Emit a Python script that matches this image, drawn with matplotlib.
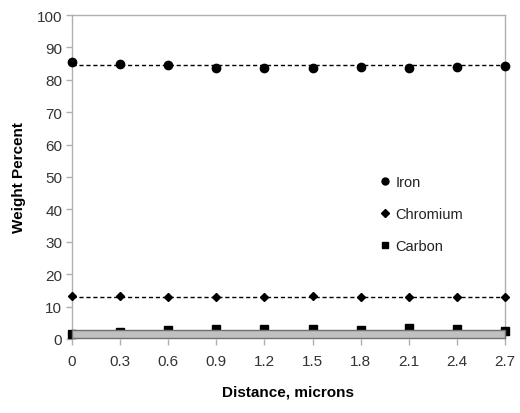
import matplotlib
matplotlib.use("Agg")
import matplotlib.pyplot as plt
from matplotlib.lines import Line2D

plt.rcParams['font.family'] = ['Liberation Sans', 'DejaVu Sans']

distance = [0, 0.3, 0.6, 0.9, 1.2, 1.5, 1.8, 2.1, 2.4, 2.7]
tick_labels = ['0', '0.3', '0.6', '0.9', '1.2', '1.5', '1.8', '2.1', '2.4', '2.7']
iron = [85.4, 84.8, 84.5, 83.6, 83.7, 83.5, 84.0, 83.6, 83.9, 84.3]
chromium = [13.3, 13.2, 13.0, 13.0, 13.0, 13.2, 12.9, 12.9, 13.0, 13.1]
carbon = [1.5, 2.3, 2.7, 3.2, 3.1, 3.0, 2.9, 3.3, 3.0, 2.6]
iron_trend = 84.5
chromium_trend = 13.0
band_low, band_high = 0.3, 2.8

fig = plt.figure(figsize=(5.2, 4.14), dpi=100)
ax = fig.add_axes([72/520, 1-340/414, 433/520, 324/414])

ax.plot([distance[0], distance[-1]], [iron_trend, iron_trend], ls=(0, (3, 2)), color='black', lw=1, zorder=2)
ax.plot([distance[0], distance[-1]], [chromium_trend, chromium_trend], ls=(0, (3, 2)), color='black', lw=1, zorder=2)

ax.plot(distance, iron, 'o', color='black', ms=6, clip_on=False, zorder=3, label='Iron')
ax.plot(distance, chromium, 'D', color='black', ms=4, clip_on=False, zorder=3, label='Chromium')
ax.plot(distance, carbon, 's', color='black', ms=6, clip_on=False, zorder=3, label='Carbon')

ax.fill_between([distance[0], distance[-1]], band_low, band_high, facecolor='#c0c0c0',
                edgecolor='#707070', lw=1, zorder=4, clip_on=False)

ax.set_xlim(0, 2.7)
ax.set_ylim(0, 100)
ax.set_xticks(distance)
ax.set_xticklabels(tick_labels)
ax.set_yticks(range(0, 101, 10))

for s in ax.spines.values():
    s.set_color('#b0b0b0')
    s.set_linewidth(1)
ax.spines['bottom'].set_visible(False)

ax.tick_params(axis='both', direction='out', length=4, color='#b0b0b0', labelsize=11,
               labelcolor='#333333', width=1)
ax.tick_params(axis='x', pad=7)
ax.tick_params(axis='y', pad=3)

ax.set_xlabel('Distance, microns', fontsize=11, fontweight='bold', labelpad=12)
ax.set_ylabel('Weight Percent', fontsize=11, fontweight='bold', labelpad=8)

handles = [Line2D([], [], ls='none', marker='o', color='black', ms=5),
           Line2D([], [], ls='none', marker='D', color='black', ms=4),
           Line2D([], [], ls='none', marker='s', color='black', ms=5)]
leg = ax.legend(handles, ['Iron', 'Chromium', 'Carbon'], loc='upper left',
                bbox_to_anchor=(0.68, 0.547), frameon=False, fontsize=10.5,
                handlelength=0.8, handletextpad=0.3, labelspacing=1.25)
for t in leg.get_texts():
    t.set_color('#222222')

fig.savefig('out.png', dpi=100)
